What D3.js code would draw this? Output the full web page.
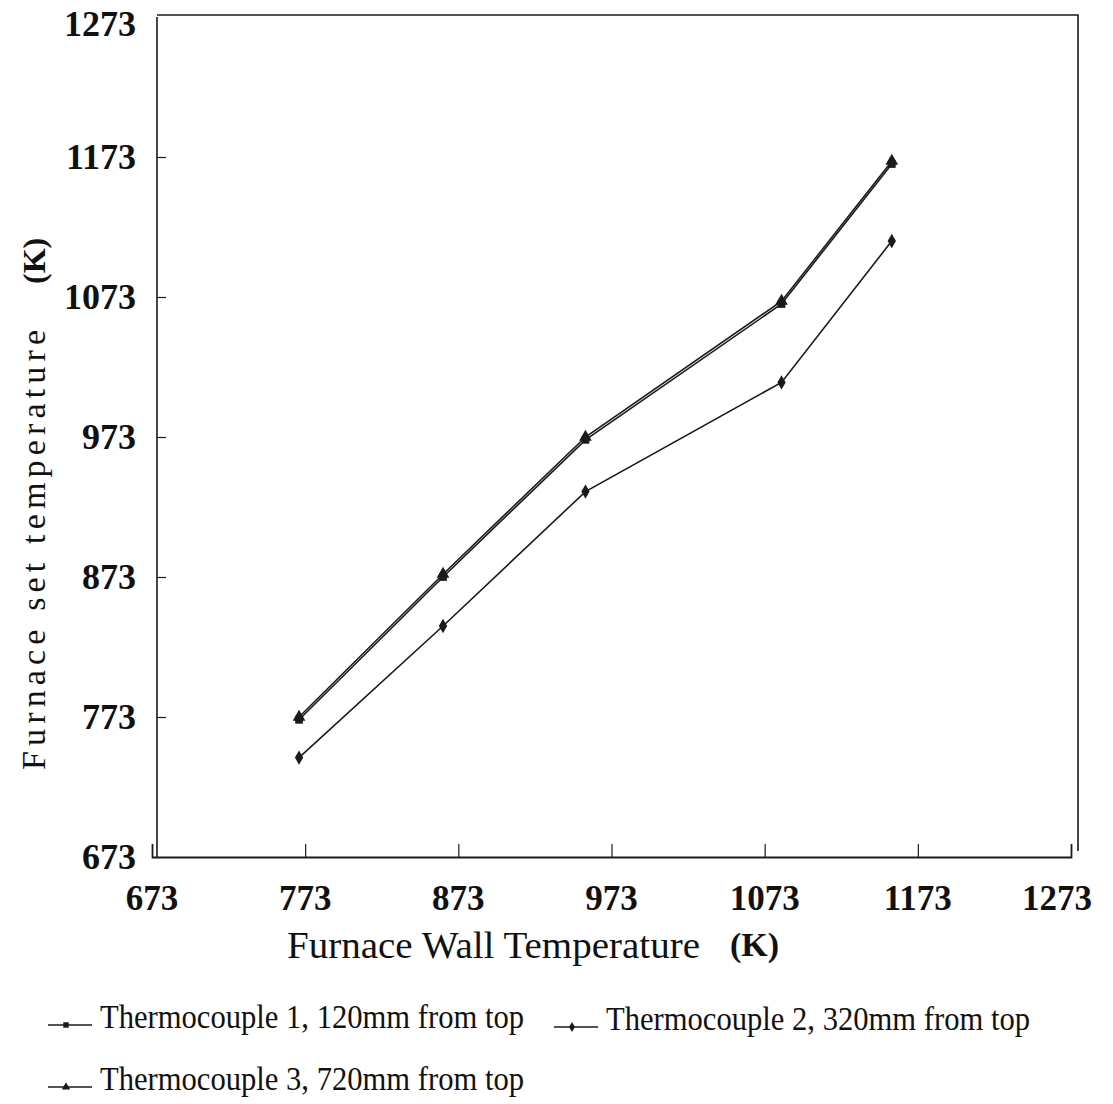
<!DOCTYPE html>
<html>
<head>
	<title>Furnace temperatures</title>
	<style>
		body { margin: 0; background-color: #ffffff; }
		.tickLabel { font-family: 'Liberation Serif', serif; font-weight: bold; fill: #111; }
		.title { font-family: 'Liberation Serif', serif; fill: #111; }
	</style>
</head>
<body>

<div id="dataviz"></div>

<script src="https://d3js.org/d3.v7.min.js"></script>
<script>

	// values (Kelvin)
	var wallTemp = [769, 863, 956, 1084, 1156];
	var tc1 = [771, 873, 971, 1068, 1168];
	var tc2 = [744, 838, 934, 1012, 1113];
	var tc3 = [773, 875, 973, 1070, 1170];
	var tickValues = [673, 773, 873, 973, 1073, 1173, 1273];
	var seriesNames = ['Thermocouple 1, 120mm from top', 'Thermocouple 2, 320mm from top', 'Thermocouple 3, 720mm from top'];

	var width = 1113;
	var height = 1104;

	var svg = d3.select('#dataviz')
		.append('svg')
		.attr('width', width)
		.attr('height', height);

	svg.append('rect')
		.attr('x', 0)
		.attr('y', 0)
		.attr('width', width)
		.attr('height', height)
		.attr('fill', '#ffffff');

	var x = d3.scaleLinear().domain([673, 1273]).range([152, 1071]);
	var y = d3.scaleLinear().domain([673, 1273]).range([857, 17]);

	var ink = '#1a1a1a';

	// frame
	svg.append('path')
		.attr('d', 'M157,' + y(1273) + ' L157,' + y(673) + ' M157,' + (y(1273) - 2) + ' L1078,' + (y(1273) - 2) + ' L1078,' + (y(673) - 6))
		.attr('fill', 'none')
		.attr('stroke', ink)
		.attr('stroke-width', 1.6);

	// x axis, ticks pointing up into the plot
	var xAxis = svg.append('g')
		.attr('transform', 'translate(0,' + y(673) + ')')
		.call(d3.axisTop(x).tickValues(tickValues).tickSize(13).tickFormat(''));
	xAxis.select('.domain').attr('stroke', ink).attr('stroke-width', 1.8);
	xAxis.selectAll('.tick line').attr('stroke', ink).attr('stroke-width', 1.2);
	xAxis.selectAll('.tick line').filter(function(d){ return d == 673 || d == 1273 }).remove();

	svg.selectAll('.xLabel')
		.data(tickValues)
		.enter()
		.append('text')
		.attr('class', 'tickLabel')
		.attr('x', function(d){ return Math.min(x(d), 1057) })
		.attr('y', 910)
		.attr('text-anchor', 'middle')
		.attr('font-size', 35)
		.text(function(d){ return d });

	// y axis
	var yAxis = svg.append('g')
		.attr('transform', 'translate(157,0)')
		.call(d3.axisRight(y).tickValues(tickValues.slice(1, 6)).tickSize(9).tickFormat(''));
	yAxis.select('.domain').remove();
	yAxis.selectAll('.tick line').attr('stroke', ink).attr('stroke-width', 1.2);

	svg.selectAll('.yLabel')
		.data(tickValues)
		.enter()
		.append('text')
		.attr('class', 'tickLabel')
		.attr('x', 136)
		.attr('y', function(d){ return Math.max(y(d) + 12, 36) })
		.attr('text-anchor', 'end')
		.attr('font-size', 36)
		.text(function(d){ return d });

	// axis titles
	svg.append('text')
		.attr('class', 'title')
		.attr('x', 287)
		.attr('y', 958)
		.attr('font-size', 38)
		.attr('textLength', 413)
		.attr('lengthAdjust', 'spacingAndGlyphs')
		.text('Furnace Wall Temperature');

	svg.append('text')
		.attr('class', 'title')
		.attr('x', 730)
		.attr('y', 956)
		.attr('font-size', 34)
		.attr('font-weight', 'bold')
		.text('(K)');

	svg.append('text')
		.attr('class', 'title')
		.attr('transform', 'translate(45,770) rotate(-90)')
		.attr('font-size', 34)
		.attr('textLength', 440)
		.attr('lengthAdjust', 'spacing')
		.text('Furnace set temperature');

	svg.append('text')
		.attr('class', 'title')
		.attr('transform', 'translate(45,284) rotate(-90)')
		.attr('font-size', 32)
		.attr('font-weight', 'bold')
		.text('(K)');

	// series
	var series = [
		{ name: seriesNames[0], values: tc1, symbol: d3.symbolSquare, size: 60 },
		{ name: seriesNames[1], values: tc2, symbol: d3.symbolDiamond, size: 60 },
		{ name: seriesNames[2], values: tc3, symbol: d3.symbolTriangle, size: 70 }
	];

	var line = d3.line()
		.x(function(d){ return x(d[0]) })
		.y(function(d){ return y(d[1]) });

	series.forEach(function(s){
		var pts = wallTemp.map(function(w, i){ return [w, s.values[i]] });

		svg.append('path')
			.attr('d', line(pts))
			.attr('fill', 'none')
			.attr('stroke', ink)
			.attr('stroke-width', 1.6);

		svg.selectAll(null)
			.data(pts)
			.enter()
			.append('path')
			.attr('transform', function(d){ return 'translate(' + x(d[0]) + ',' + y(d[1]) + ')' })
			.attr('d', d3.symbol().type(s.symbol).size(s.size))
			.attr('fill', ink);
	});

	// legend
	var legendPos = [[48, 1018], [554, 1020], [48, 1080]];

	series.forEach(function(s, i){
		var lx = legendPos[i][0];
		var ly = legendPos[i][1];
		var g = svg.append('g').attr('transform', 'translate(' + lx + ',' + ly + ')');

		g.append('line')
			.attr('x1', 0).attr('x2', 44)
			.attr('y1', 7).attr('y2', 7)
			.attr('stroke', ink)
			.attr('stroke-width', 1.3);

		g.append('path')
			.attr('transform', 'translate(18,7)')
			.attr('d', d3.symbol().type(s.symbol).size(30))
			.attr('fill', ink);

		g.append('text')
			.attr('class', 'title')
			.attr('x', 52)
			.attr('y', 10)
			.attr('font-size', 34)
			.attr('textLength', 424)
			.attr('lengthAdjust', 'spacingAndGlyphs')
			.text(s.name);
	});

</script>

</body>
</html>
